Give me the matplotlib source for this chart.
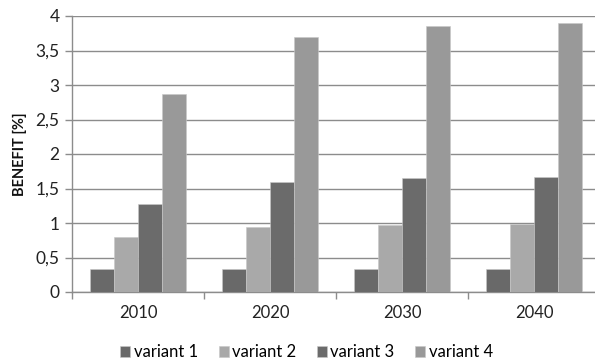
import matplotlib
matplotlib.use("Agg")
import matplotlib.pyplot as plt
import numpy as np

years = ["2010", "2020", "2030", "2040"]
series_names = ["variant 1", "variant 2", "variant 3", "variant 4"]
variant1 = [0.33, 0.33, 0.33, 0.33]
variant2 = [0.79, 0.94, 0.97, 0.98]
variant3 = [1.28, 1.60, 1.65, 1.67]
variant4 = [2.87, 3.69, 3.85, 3.90]
colors = ["#696969", "#a9a9a9", "#6b6b6b", "#999999"]
yticks = [0, 0.5, 1, 1.5, 2, 2.5, 3, 3.5, 4]
ytick_labels = ["0", "0,5", "1", "1,5", "2", "2,5", "3", "3,5", "4"]

plt.rcParams['font.family'] = ['Lato', 'DejaVu Sans']

fig = plt.figure(figsize=(5.95, 3.61), dpi=100)
ax = fig.add_axes([72/595, 1-292/361, 528/595, 276/361])

x = np.arange(len(years))
bw = 24/132
data = [variant1, variant2, variant3, variant4]
for i, (vals, c, name) in enumerate(zip(data, colors, series_names)):
    ax.bar(x + (i - 1.5) * bw, vals, width=bw, color=c, label=name,
           edgecolor="#c8c8c8", linewidth=0.4, zorder=3)

ax.set_xlim(-0.5, 3.5)
ax.set_ylim(0, 4)
ax.set_yticks(yticks)
ax.set_yticklabels(ytick_labels, fontsize=12.5, color="#222222")
ax.yaxis.grid(True, color="#8c8c8c", linewidth=1.0, zorder=0)
ax.set_xticks(x)
ax.set_xticklabels(years, fontsize=12, color="#222222")
ax.set_xticks(np.arange(-0.5, 3.6, 1), minor=True)
ax.tick_params(axis='x', which='major', length=0, pad=9)
ax.tick_params(axis='x', which='minor', length=5, color="#8c8c8c", width=1)
ax.tick_params(axis='y', length=5, color="#8c8c8c", width=1, pad=4)
for s in ["top", "right"]:
    ax.spines[s].set_visible(False)
for s in ["left", "bottom"]:
    ax.spines[s].set_color("#8c8c8c")
    ax.spines[s].set_linewidth(1.0)

ax.set_ylabel("BENEFIT [%]", fontsize=10.5, fontweight="bold", color="#111111", labelpad=6)

leg = fig.legend(loc="lower center", bbox_to_anchor=(0.5 + 9/595, -0.04), ncol=4,
                 frameon=False, fontsize=12, handlelength=0.6, handleheight=0.6,
                 handletextpad=0.2, columnspacing=1.25)

fig.savefig("out.png", dpi=100)
